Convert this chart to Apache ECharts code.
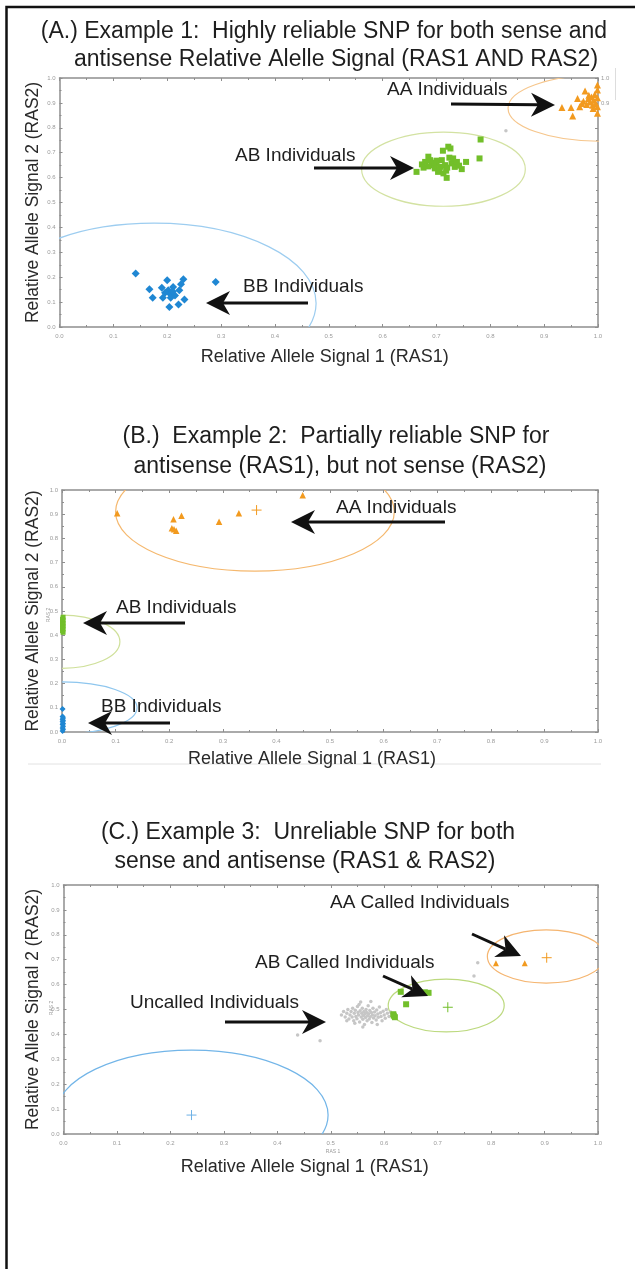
<!DOCTYPE html>
<html>
<head>
<meta charset="utf-8">
<title>RAS cluster plots</title>
<script src="https://cdn.jsdelivr.net/npm/echarts/dist/echarts.min.js"></script>
<style>
  html, body { margin: 0; padding: 0; background: #fff; }
  #chart { width: 635px; height: 1269px; }
</style>
</head>
<body>
<div id="chart"></div>
<script>
// ---- data (RAS1, RAS2) ----
var aAA = [[0.933,0.882],[0.950,0.882],[0.953,0.847],[0.962,0.918],[0.966,0.885],[0.976,0.948],
  [0.973,0.907],[0.979,0.894],[0.982,0.918],[0.985,0.904],[0.988,0.924],[0.990,0.891],[0.992,0.911],
  [0.994,0.934],[0.996,0.898],[0.999,0.972],[0.999,0.952],[0.999,0.921],[0.999,0.885],[0.999,0.858],
  [0.983,0.931],[0.970,0.898],[0.991,0.878]];
var aAB = [[0.663,0.623],[0.673,0.653],[0.679,0.663],[0.685,0.684],[0.688,0.670],[0.691,0.650],
  [0.697,0.637],[0.700,0.657],[0.703,0.623],[0.707,0.643],[0.710,0.670],[0.712,0.708],[0.713,0.617],
  [0.716,0.650],[0.719,0.599],[0.722,0.724],[0.724,0.680],[0.726,0.717],[0.728,0.657],[0.731,0.677],
  [0.734,0.643],[0.738,0.663],[0.747,0.634],[0.755,0.663],[0.780,0.677],[0.782,0.753],[0.694,0.660],
  [0.705,0.632],[0.718,0.628],[0.700,0.668],[0.685,0.645],[0.676,0.640],[0.720,0.640],[0.742,0.648]];
var aBB = [[0.1415,0.215],[0.290,0.181],[0.167,0.152],[0.173,0.117],[0.190,0.158],[0.192,0.117],
  [0.200,0.188],[0.202,0.148],[0.205,0.134],[0.2065,0.117],[0.204,0.080],[0.211,0.161],[0.2145,0.127],
  [0.221,0.090],[0.2225,0.148],[0.2256,0.172],[0.230,0.192],[0.232,0.110],[0.196,0.138],[0.2105,0.143]];
var aNC = [[0.829,0.788]];
var aEllipses = [[1.004,0.879,0.171,0.133],[0.713,0.634,0.152,0.149],[0.1755,0.095,0.301,0.322]];

var bAA = [[0.103,0.904],[0.208,0.879],[0.223,0.894],[0.205,0.842],[0.213,0.832],[0.209,0.838],
  [0.293,0.869],[0.330,0.904],[0.449,0.978]];
var bAB = [[0.002,0.412],[0.001,0.419],[0.002,0.426],[0.001,0.430],[0.002,0.438],[0.001,0.444],
  [0.002,0.449],[0.001,0.456],[0.002,0.462],[0.001,0.466],[0.002,0.474]];
var bBB = [[0.001,0.004],[0.002,0.011],[0.001,0.017],[0.002,0.024],[0.001,0.031],[0.002,0.035],
  [0.001,0.042],[0.002,0.047],[0.001,0.053],[0.002,0.058],[0.001,0.064],[0.001,0.095]];
var bEllipses = [[0.36,0.91,0.26,0.245],[0.0,0.373,0.108,0.11],[0.0,0.10,0.14,0.107]];
var bCenters = [[0.363,0.917]];

var cAA = [[0.809,0.686],[0.863,0.686]];
var cAB = [[0.631,0.571],[0.683,0.567],[0.641,0.521],[0.617,0.481],[0.620,0.469],[0.618,0.475],[0.676,0.569]];
var cNC = [[0.520,0.478],[0.524,0.492],[0.527,0.470],[0.530,0.485],[0.532,0.500],[0.534,0.462],
  [0.536,0.478],[0.538,0.492],[0.540,0.470],[0.541,0.505],[0.543,0.455],[0.544,0.485],[0.546,0.497],
  [0.547,0.472],[0.549,0.463],[0.550,0.512],[0.551,0.488],[0.552,0.478],[0.554,0.450],[0.555,0.495],
  [0.556,0.530],[0.557,0.470],[0.558,0.485],[0.559,0.505],[0.560,0.461],[0.561,0.476],[0.562,0.492],
  [0.563,0.440],[0.564,0.482],[0.565,0.468],[0.566,0.500],[0.567,0.488],[0.568,0.455],[0.569,0.475],
  [0.570,0.515],[0.571,0.483],[0.572,0.462],[0.573,0.496],[0.574,0.471],[0.575,0.532],[0.576,0.488],
  [0.577,0.448],[0.578,0.478],[0.579,0.505],[0.580,0.466],[0.582,0.490],[0.583,0.475],[0.585,0.458],
  [0.586,0.498],[0.588,0.482],[0.589,0.469],[0.591,0.510],[0.593,0.487],[0.594,0.472],[0.596,0.455],
  [0.598,0.493],[0.600,0.478],[0.602,0.465],[0.604,0.500],[0.606,0.485],[0.609,0.472],[0.612,0.490],
  [0.553,0.520],[0.545,0.445],[0.587,0.440],[0.560,0.430],[0.530,0.455],[0.615,0.478],
  [0.775,0.688],[0.768,0.635],[0.438,0.398],[0.480,0.375]];
var cEllipses = [[0.903,0.713,0.11,0.107],[0.716,0.516,0.1085,0.106],[0.24,0.076,0.255,0.261]];
var cCenters = [[0.904,0.708],[0.719,0.509],[0.2395,0.076]];

var ticks = ['0.0','0.1','0.2','0.3','0.4','0.5','0.6','0.7','0.8','0.9','1.0'];

var ORANGE = '#f29a1f', GREEN = '#72bf2a', BLUE = '#1f87d3', GREY = '#c6c6c6';
var FONT = '"Liberation Sans", Arial, sans-serif';

var myChart = echarts.init(document.getElementById('chart'));

var grids = [
  {left: 59.5, top: 78, width: 538.5, height: 249},
  {left: 62, top: 490, width: 536, height: 242},
  {left: 63.5, top: 885, width: 534.5, height: 249}
];
var xNameGap = [21, 18, 24];
var xNamePad = [8, 36, 52];
var yNameGap = [17, 19.5, 21];

var axisColor = '#8e8e8e';
function tickLabel(v) { return ticks[Math.round(v * 10)]; }

var xAxes = [], yAxes = [];
grids.forEach(function (g, i) {
  g.outerBoundsMode = 'none';
  g.containLabel = false;
  var common = {
    gridIndex: i, type: 'value', min: 0, max: 1, interval: 0.1,
    axisLine: {onZero: false, lineStyle: {color: axisColor, width: 1.5}},
    axisTick: {inside: true, length: 3, lineStyle: {color: axisColor}},
    minorTick: {show: true, splitNumber: 2, length: 2, lineStyle: {color: axisColor}},
    splitLine: {show: false},
    axisLabel: {fontSize: 6, color: '#9a9a9a', margin: 6, formatter: tickLabel}
  };
  xAxes.push(echarts.util.merge({
    position: 'bottom', name: 'Relative Allele Signal 1 (RAS1)', nameLocation: 'middle',
    nameGap: xNameGap[i], nameMoveOverlap: false,
    nameTextStyle: {fontSize: 18, color: '#2a2a2a', fontFamily: FONT, padding: [0, xNamePad[i], 0, 0]}
  }, echarts.util.clone(common), false));
  xAxes.push(echarts.util.merge({position: 'top', axisLabel: {show: false}}, echarts.util.clone(common), false));
  yAxes.push(echarts.util.merge({
    position: 'left', name: 'Relative Allele Signal 2 (RAS2)', nameLocation: 'middle',
    nameGap: yNameGap[i], nameMoveOverlap: false,
    nameTextStyle: {fontSize: 17.5, color: '#2a2a2a', fontFamily: FONT},
    axisLabel: {margin: 4}
  }, echarts.util.clone(common), false));
  yAxes.push(echarts.util.merge({
    position: 'right',
    axisLabel: i === 0 ? {show: true, margin: 3, formatter: function (v) { return v >= 0.85 ? tickLabel(v) : ''; }}
                       : {show: false}
  }, echarts.util.clone(common), false));
});

function drawEllipse(params, api) {
  var c = api.coord([api.value(0), api.value(1)]);
  var s = api.size([api.value(2), api.value(3)]);
  return {type: 'ellipse', shape: {cx: c[0], cy: c[1], rx: s[0], ry: s[1]},
    style: {fill: 'none', stroke: api.visual('color'), lineWidth: 1.2}};
}
function drawCross(params, api) {
  var c = api.coord([api.value(0), api.value(1)]);
  var st = {stroke: api.visual('color'), lineWidth: 1};
  return {type: 'group', children: [
    {type: 'line', shape: {x1: c[0] - 5, y1: c[1], x2: c[0] + 5, y2: c[1]}, style: st},
    {type: 'line', shape: {x1: c[0], y1: c[1] - 5, x2: c[0], y2: c[1] + 5}, style: st}
  ]};
}

function scatter(i, data, symbol, size, color) {
  return {type: 'scatter', xAxisIndex: 2 * i, yAxisIndex: 2 * i, data: data, symbol: symbol,
    symbolSize: size, itemStyle: {color: color, opacity: 1}, clip: false, silent: true, animation: false};
}
function ellipses(i, data, colors) {
  return {type: 'custom', xAxisIndex: 2 * i, yAxisIndex: 2 * i, clip: true, silent: true, animation: false,
    renderItem: drawEllipse, encode: {x: 0, y: 1},
    data: data.map(function (e, k) { return {value: e, itemStyle: {color: colors[k]}}; })};
}
function crosses(i, data, colors) {
  return {type: 'custom', xAxisIndex: 2 * i, yAxisIndex: 2 * i, silent: true, animation: false,
    renderItem: drawCross, encode: {x: 0, y: 1},
    data: data.map(function (e, k) { return {value: e, itemStyle: {color: colors[k]}}; })};
}

var series = [
  ellipses(0, aEllipses, ['#f6c68c', '#d3e2a2', '#9dcdf0']),
  scatter(0, aNC, 'circle', 3.5, GREY),
  scatter(0, aAA, 'triangle', 7, ORANGE),
  scatter(0, aAB, 'rect', 6, GREEN),
  scatter(0, aBB, 'diamond', 8, BLUE),

  ellipses(1, bEllipses, ['#f5b86e', '#cfe09a', '#8ec6ee']),
  crosses(1, bCenters, [ORANGE]),
  scatter(1, bAA, 'triangle', 6.5, ORANGE),
  scatter(1, bAB, 'rect', 5, GREEN),
  scatter(1, bBB, 'diamond', 6, BLUE),

  ellipses(2, cEllipses, ['#f5b570', '#bcd97e', '#72b5e8']),
  crosses(2, cCenters, [ORANGE, GREEN, '#6fb2e6']),
  scatter(2, cNC, 'circle', 3.5, GREY),
  scatter(2, cAA, 'triangle', 6, ORANGE),
  scatter(2, cAB, 'rect', 6, GREEN)
];

// ---- annotations ----
function arrow(x1, y1, x2, y2) {
  var dx = x2 - x1, dy = y2 - y1, len = Math.sqrt(dx * dx + dy * dy);
  var ux = dx / len, uy = dy / len, nx = -uy, ny = ux;
  var L = 24, W = 12, N = 17;
  var bx = x2 - ux * L, by = y2 - uy * L, kx = x2 - ux * N, ky = y2 - uy * N;
  return [
    {type: 'line', z: 50, shape: {x1: x1, y1: y1, x2: kx, y2: ky}, style: {stroke: '#111', lineWidth: 3}},
    {type: 'polygon', z: 50, shape: {points: [[x2, y2], [bx + nx * W, by + ny * W], [kx, ky], [bx - nx * W, by - ny * W]]},
      style: {fill: '#111'}}
  ];
}
function label(text, x, y, size, align) {
  return {type: 'text', z: 50, x: x, y: y,
    style: {text: text, fontSize: size, fontFamily: FONT, fill: '#1e1e1e', align: align || 'left', verticalAlign: 'middle'}};
}

var graphics = [
  {type: 'polyline', z: 60, shape: {points: [[6.5, 1269], [6.5, 7], [635, 7]]}, style: {stroke: '#111', lineWidth: 2.5, fill: 'none'}},
  {type: 'line', shape: {x1: 28, y1: 764, x2: 601, y2: 764}, style: {stroke: '#e2e2e2', lineWidth: 1}},
  {type: 'line', shape: {x1: 615.5, y1: 68, x2: 615.5, y2: 100}, style: {stroke: '#dddddd', lineWidth: 1}},
  label('(A.) Example 1:  Highly reliable SNP for both sense and', 324, 32, 23, 'center'),
  label('antisense Relative Alelle Signal (RAS1 AND RAS2)', 336, 60, 23, 'center'),
  label('(B.)  Example 2:  Partially reliable SNP for', 336, 437, 23, 'center'),
  label('antisense (RAS1), but not sense (RAS2)', 340, 467, 23, 'center'),
  label('(C.) Example 3:  Unreliable SNP for both', 308, 833, 23, 'center'),
  label('sense and antisense (RAS1 & RAS2)', 305, 862, 23, 'center'),
  label('AA Individuals', 387, 90, 19),
  label('AB Individuals', 235, 156, 19),
  label('BB Individuals', 243, 287, 19),
  label('AA Individuals', 336, 508, 19),
  label('AB Individuals', 116, 608, 19),
  label('BB Individuals', 101, 707, 19),
  label('AA Called Individuals', 330, 903, 19),
  label('AB Called Individuals', 255, 963, 19),
  label('Uncalled Individuals', 130, 1003, 19),
  {type: 'text', x: 333, y: 1152, style: {text: 'RAS 1', fontSize: 5, fill: '#999', align: 'center', verticalAlign: 'middle'}},
  {type: 'text', x: 49, y: 615, rotation: Math.PI / 2, style: {text: 'RAS 2', fontSize: 5, fill: '#999', align: 'center', verticalAlign: 'middle'}},
  {type: 'text', x: 52, y: 1008, rotation: Math.PI / 2, style: {text: 'RAS 2', fontSize: 5, fill: '#999', align: 'center', verticalAlign: 'middle'}}
];
[
  [451, 104, 555, 105], [314, 168, 414, 168], [308, 303, 206, 303],
  [445, 522, 291, 522], [185, 623, 83, 623], [170, 723, 88, 723],
  [472, 934, 521, 956], [383, 976, 428, 996], [225, 1022, 326, 1022]
].forEach(function (a) { graphics = graphics.concat(arrow(a[0], a[1], a[2], a[3])); });

var option = {
  backgroundColor: '#fff',
  animation: false,
  textStyle: {fontFamily: FONT},
  grid: grids,
  xAxis: xAxes,
  yAxis: yAxes,
  series: series,
  graphic: graphics
};

myChart.setOption(option);
</script>
</body>
</html>
